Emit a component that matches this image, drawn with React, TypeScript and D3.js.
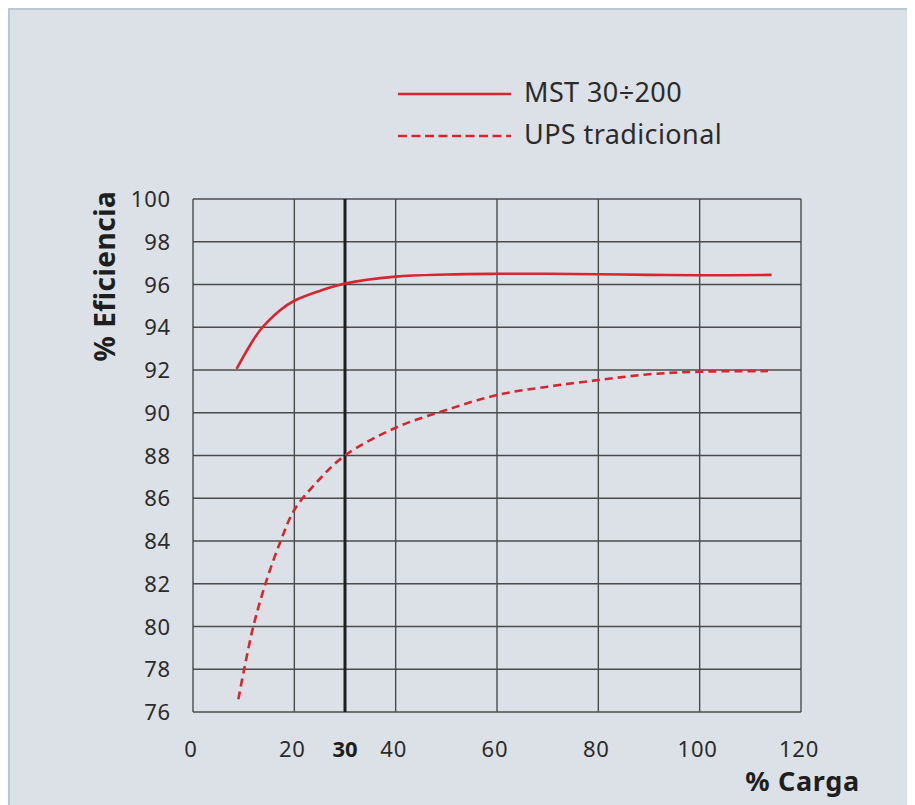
import React, { useEffect } from 'react';
import * as d3 from 'd3';

// % Carga -> % Eficiencia
const mstLoad = [8.6, 13.2, 17.2, 20, 25, 30, 40, 50, 60, 70, 80, 90, 100, 114.2];
const mstEff = [92.05, 93.85, 94.8, 95.24, 95.7, 96.05, 96.37, 96.47, 96.5, 96.5, 96.48, 96.45, 96.43, 96.45];

const upsLoad = [8.95, 10.1, 11.9, 14.3, 17.3, 20, 25, 30, 40, 50, 60, 70, 80, 90, 100, 113.5];
const upsEff = [76.6, 78, 80, 82, 84, 85.45, 86.9, 88, 89.3, 90.13, 90.83, 91.22, 91.53, 91.8, 91.92, 91.95];

const xTicks = [0, 20, 40, 60, 80, 100, 120];
const yTicks = [76, 78, 80, 82, 84, 86, 88, 90, 92, 94, 96, 98, 100];
const markLoad = 30;

const seriesNames = ['MST 30÷200', 'UPS tradicional'];

const RED = '#d8252e';
const GRID = '#4b4b4b';
const TEXT = '#2b2b2b';
const FONT = '"Noto Sans", sans-serif';

const W = 907;
const H = 797;
const margin = { top: 191, right: 114, bottom: 93, left: 185 };

const App: React.FC = () => {
  useEffect(() => {
    document.body.style.overflow = 'hidden';
  }, []);

  const x = d3.scaleLinear().domain([0, 120]).range([margin.left, W - margin.right]);
  const y = d3.scaleLinear().domain([76, 100]).range([H - margin.bottom, margin.top]);

  const line = d3
    .line<[number, number]>()
    .x((d) => x(d[0]))
    .y((d) => y(d[1]))
    .curve(d3.curveCatmullRom.alpha(0.5));

  const mst = mstLoad.map((v, i) => [v, mstEff[i]] as [number, number]);
  const ups = upsLoad.map((v, i) => [v, upsEff[i]] as [number, number]);

  return (
    <svg width={W} height={H} style={{ display: 'block' }}>
      <rect x={1} y={1} width={W + 10} height={H + 10} fill="#dbe1e7" stroke="#b9c9d4" strokeWidth={2} />

      {/* grid */}
      {yTicks.map((t) => (
        <line key={'h' + t} x1={x(0)} x2={x(120)} y1={y(t)} y2={y(t)} stroke={GRID} strokeWidth={1.4} />
      ))}
      {xTicks.map((t) => (
        <line key={'v' + t} x1={x(t)} x2={x(t)} y1={y(76)} y2={y(100)} stroke={GRID} strokeWidth={1.4} />
      ))}
      <line x1={x(markLoad)} x2={x(markLoad)} y1={y(76)} y2={y(100)} stroke="#1e1e1e" strokeWidth={3} />

      {/* curves */}
      <path d={line(mst) || ''} fill="none" stroke={RED} strokeWidth={2.6} />
      <path d={line(ups) || ''} fill="none" stroke={RED} strokeWidth={2.6} strokeDasharray="8 5" />

      {/* y tick labels */}
      {yTicks.map((t) => (
        <text
          key={'yl' + t}
          x={x(0) - 22}
          y={y(t) + 8}
          textAnchor="end"
          fontFamily={FONT}
          fontSize={22}
          letterSpacing={0.8}
          fill={TEXT}
        >
          {t}
        </text>
      ))}
      {/* x tick labels */}
      {xTicks.map((t) => (
        <text
          key={'xl' + t}
          x={x(t) - 2}
          y={H - 48}
          textAnchor="middle"
          fontFamily={FONT}
          fontSize={22}
          letterSpacing={0.8}
          fill={TEXT}
        >
          {t}
        </text>
      ))}
      <text x={x(markLoad)} y={H - 48} textAnchor="middle" fontFamily={FONT} fontSize={22} fontWeight="bold" fill="#1e1e1e">
        {markLoad}
      </text>

      {/* axis titles */}
      <text
        transform={`translate(107, 268) rotate(-90)`}
        textAnchor="middle"
        fontFamily={FONT}
        fontSize={28}
        fontWeight="bold"
        letterSpacing={0.5}
        fill="#1e1e1e"
      >
        % Eficiencia
      </text>
      <text
        x={852}
        y={783}
        textAnchor="end"
        fontFamily={FONT}
        fontSize={27}
        fontWeight="bold"
        letterSpacing={0.7}
        fill="#1e1e1e"
      >
        % Carga
      </text>

      {/* legend */}
      <line x1={390} x2={503} y1={86} y2={86} stroke={RED} strokeWidth={2.6} />
      <text x={516} y={94} fontFamily={FONT} fontSize={27} letterSpacing={0.4} fill={TEXT}>
        {seriesNames[0]}
      </text>
      <line x1={390} x2={503} y1={128} y2={128} stroke={RED} strokeWidth={2.6} strokeDasharray="9 4.5" />
      <text x={516} y={136} fontFamily={FONT} fontSize={27} letterSpacing={0.4} fill={TEXT}>
        {seriesNames[1]}
      </text>
    </svg>
  );
};

export default App;
